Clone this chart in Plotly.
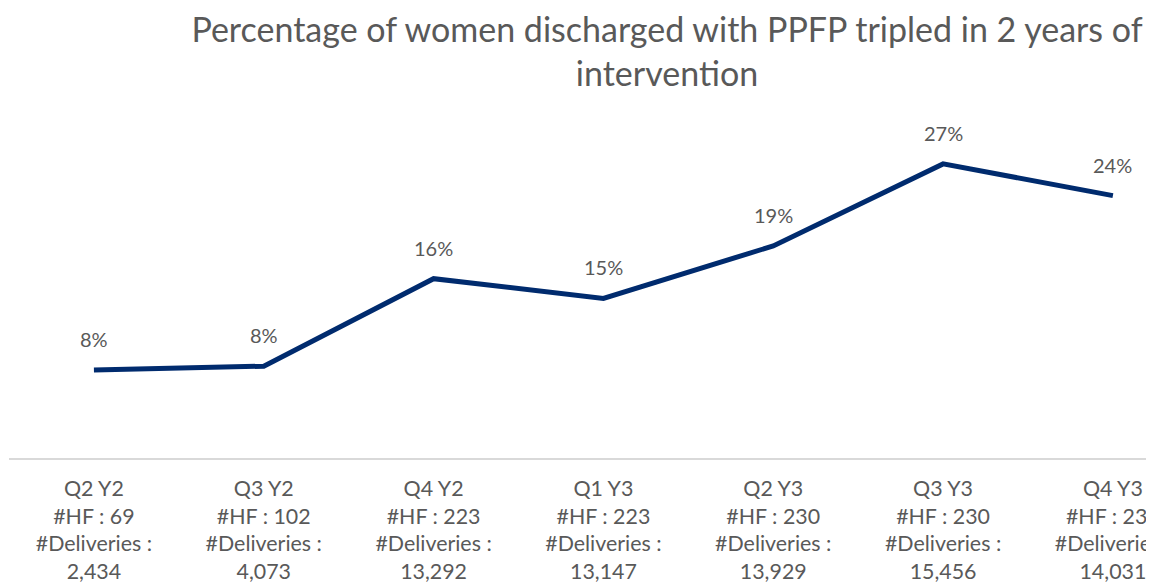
import plotly.graph_objects as go

quarters = ["Q2 Y2", "Q3 Y2", "Q4 Y2", "Q1 Y3", "Q2 Y3", "Q3 Y3", "Q4 Y3"]
hf_counts = [69, 102, 223, 223, 230, 230, 230]
deliveries = [2434, 4073, 13292, 13147, 13929, 15456, 14031]
pct_values = [8.05, 8.4, 16.4, 14.6, 19.4, 26.9, 24.0]
pct_labels = ["8%", "8%", "16%", "15%", "19%", "27%", "24%"]

tick_text = [f"{q}<br>#HF : {h}<br>#Deliveries :<br>{d:,}" for q, h, d in zip(quarters, hf_counts, deliveries)]
xs = list(range(len(quarters)))

FONT = "Lato"
GRAY = "#595959"

fig = go.Figure()
fig.add_trace(go.Scatter(
    x=xs, y=pct_values, mode="lines",
    line=dict(color="#002B6E", width=5),
    hoverinfo="skip", showlegend=False,
))

for x, y, t in zip(xs, pct_values, pct_labels):
    fig.add_annotation(x=x, y=y, text=t, showarrow=False, yshift=31,
                       font=dict(family=FONT, size=20, color=GRAY))

W, H = 1154, 582
left, bottom, top = 1, 132, 122
spacing = 169.83
fig.update_layout(
    width=W, height=H,
    margin=dict(l=left, r=0, t=top, b=bottom, autoexpand=False),
    paper_bgcolor="white", plot_bgcolor="white",
    title=dict(text="Percentage of women discharged with PPFP tripled in 2 years of<br>intervention",
               x=659 / W, xanchor="center", y=1 - 34 / H, yanchor="middle",
               font=dict(family=FONT, size=34, color=GRAY)),
    xaxis=dict(range=[-0.5, -0.5 + (W - left) / spacing], tickmode="array",
               tickvals=xs, ticktext=tick_text, showgrid=False, zeroline=False,
               showline=True, linecolor="#D9D9D9", linewidth=2, ticks="",
               ticklabelstandoff=10, ticklabeloverflow="allow",
               automargin=False, tickfont=dict(family=FONT, size=21.4, color=GRAY)),
    yaxis=dict(range=[0, 30], visible=False, showgrid=False, zeroline=False, automargin=False),
)

fig.write_html("out.html")
